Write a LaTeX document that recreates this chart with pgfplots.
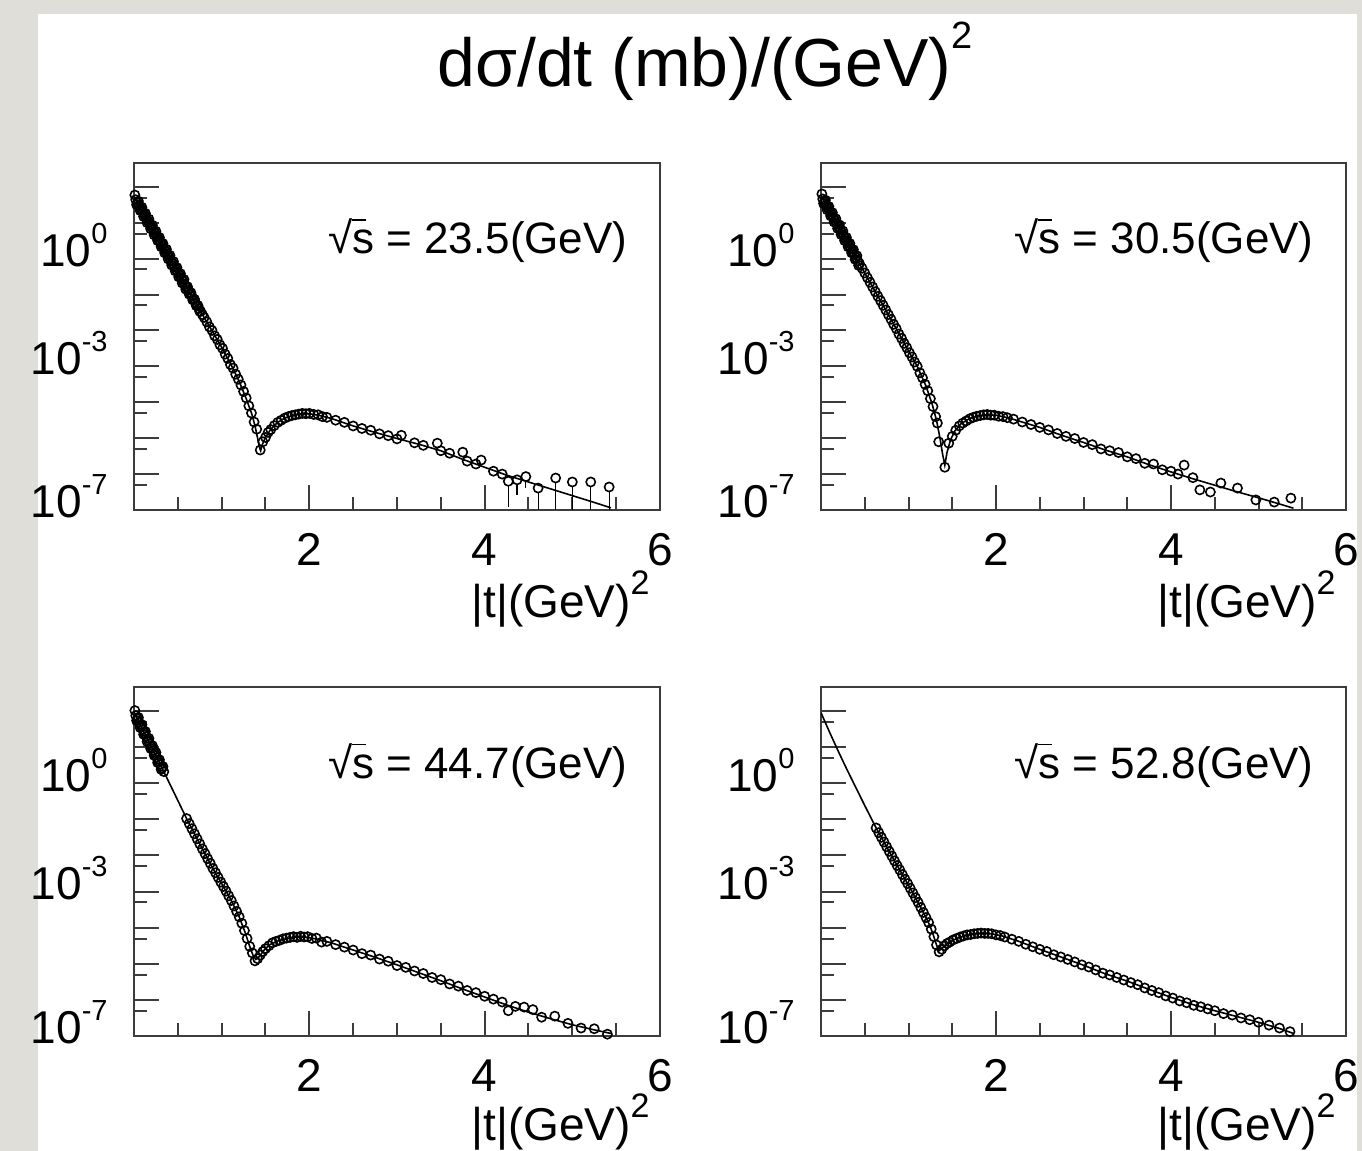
\documentclass[border=0pt]{standalone}
\usepackage{pgfplots}
\pgfplotsset{compat=1.18}
\usepackage{pgfplotstable}
\usepackage{fontspec}
\setmainfont{Liberation Sans}
\definecolor{bgcol}{RGB}{224,222,217}
\definecolor{framecol}{RGB}{60,60,60}
\newcommand{\pw}[1]{10\raisebox{11.5pt}{\fontsize{14.5pt}{14.5pt}\selectfont #1}}
\newcommand{\rs}{√\rlap{\raisebox{16.5pt}{\rule{7pt}{0.9pt}}}s}

\pgfplotstableread{
x ly
0.00 1.72
0.20 0.88
0.40 0.04
0.60 -0.80
0.80 -1.64
0.90 -2.05
1.00 -2.47
1.10 -2.92
1.20 -3.42
1.28 -3.90
1.34 -4.30
1.38 -4.65
1.41 -5.00
1.43 -5.25
1.445 -5.35
1.46 -5.20
1.50 -4.98
1.56 -4.75
1.64 -4.56
1.72 -4.44
1.82 -4.36
1.92 -4.32
2.00 -4.32
2.10 -4.36
2.25 -4.45
2.50 -4.66
2.75 -4.84
3.00 -5.01
3.25 -5.17
3.50 -5.35
3.75 -5.59
4.00 -5.81
4.25 -6.03
4.50 -6.22
4.75 -6.41
5.00 -6.60
5.25 -6.79
5.44 -6.94
}\tlfit
\pgfplotstableread{
x ly
0.01 1.77
0.03 1.50
0.05 1.60
0.07 1.34
0.09 1.43
0.11 1.17
0.13 1.26
0.15 1.00
0.17 1.10
0.19 0.83
0.21 0.93
0.23 0.66
0.25 0.76
0.27 0.50
0.29 0.59
0.31 0.33
0.33 0.42
0.35 0.16
0.37 0.26
0.39 -0.01
0.41 0.09
0.43 -0.18
0.45 -0.08
0.47 -0.34
0.49 -0.25
0.51 -0.51
0.53 -0.42
0.55 -0.68
0.57 -0.58
0.59 -0.85
0.61 -0.78
0.63 -0.99
0.65 -0.95
0.67 -1.15
0.69 -1.13
0.71 -1.31
0.73 -1.31
0.75 -1.47
}\tlband
\pgfplotstableread{
x ly
0.02 1.64
0.04 1.55
0.06 1.47
0.08 1.38
0.10 1.30
0.12 1.22
0.14 1.13
0.16 1.05
0.18 0.96
0.20 0.88
0.22 0.80
0.24 0.71
0.26 0.63
0.28 0.54
0.30 0.46
0.32 0.38
0.34 0.29
0.36 0.21
0.38 0.12
0.40 0.04
0.42 -0.04
0.44 -0.13
0.46 -0.21
0.48 -0.30
0.50 -0.38
0.52 -0.46
0.54 -0.55
0.56 -0.63
0.58 -0.72
0.60 -0.80
0.62 -0.88
0.64 -0.97
0.66 -1.05
0.68 -1.14
0.70 -1.22
0.72 -1.30
0.74 -1.39
0.76 -1.47
0.78 -1.56
0.80 -1.64
0.83 -1.76
0.86 -1.90
0.89 -2.00
0.92 -2.15
0.95 -2.25
0.98 -2.40
1.01 -2.50
1.04 -2.66
1.07 -2.78
1.10 -2.95
1.13 -3.05
1.16 -3.22
1.19 -3.36
1.22 -3.52
1.25 -3.70
1.28 -3.88
1.31 -4.10
1.34 -4.30
1.37 -4.55
1.40 -4.75
1.44 -5.33
1.47 -5.10
1.50 -4.98
1.53 -4.84
1.56 -4.76
1.60 -4.65
1.64 -4.56
1.68 -4.50
1.72 -4.44
1.76 -4.40
1.80 -4.37
1.84 -4.35
1.88 -4.33
1.92 -4.31
1.96 -4.32
2.00 -4.31
2.05 -4.34
2.10 -4.35
2.15 -4.40
2.20 -4.42
2.30 -4.50
2.40 -4.56
2.50 -4.66
2.60 -4.73
2.70 -4.78
2.80 -4.88
2.90 -4.93
3.00 -5.02
3.05 -4.92
3.20 -5.13
3.30 -5.20
3.46 -5.14
3.50 -5.35
3.60 -5.42
3.75 -5.39
3.80 -5.64
3.90 -5.72
3.96 -5.61
4.10 -5.92
4.20 -6.00
4.27 -6.20
4.37 -6.16
4.47 -6.07
4.61 -6.39
4.81 -6.11
5.00 -6.22
5.21 -6.22
5.42 -6.36
}\tldat

\pgfplotstableread{
x ly
0.00 1.75
0.20 0.89
0.40 0.03
0.60 -0.83
0.80 -1.69
1.00 -2.57
1.10 -3.00
1.20 -3.55
1.27 -4.05
1.32 -4.50
1.36 -5.00
1.39 -5.45
1.415 -5.75
1.44 -5.40
1.48 -5.05
1.53 -4.80
1.60 -4.60
1.70 -4.45
1.80 -4.38
1.90 -4.35
2.00 -4.36
2.15 -4.44
2.50 -4.70
2.75 -4.92
3.00 -5.12
3.25 -5.33
3.50 -5.52
3.75 -5.74
4.00 -5.94
4.25 -6.13
4.50 -6.31
4.75 -6.49
5.00 -6.66
5.25 -6.84
5.40 -6.95
}\trfit
\pgfplotstableread{
x ly
0.01 1.80
0.03 1.53
0.05 1.63
0.07 1.36
0.09 1.45
0.11 1.19
0.13 1.28
0.15 1.02
0.17 1.11
0.19 0.84
0.21 0.94
0.23 0.67
0.25 0.77
0.27 0.50
0.29 0.59
0.31 0.33
0.33 0.42
0.35 0.16
0.37 0.25
0.39 -0.02
0.41 0.08
0.43 -0.19
}\trband
\pgfplotstableread{
x ly
0.02 1.66
0.04 1.58
0.06 1.49
0.08 1.41
0.10 1.32
0.12 1.23
0.14 1.15
0.16 1.06
0.18 0.98
0.20 0.89
0.22 0.80
0.24 0.72
0.26 0.63
0.28 0.55
0.30 0.46
0.32 0.37
0.34 0.29
0.36 0.20
0.38 0.12
0.40 0.03
0.42 -0.06
0.44 -0.14
0.47 -0.27
0.50 -0.40
0.53 -0.53
0.56 -0.66
0.59 -0.79
0.62 -0.92
0.65 -1.05
0.68 -1.17
0.71 -1.30
0.74 -1.43
0.77 -1.56
0.80 -1.69
0.83 -1.83
0.86 -1.95
0.89 -2.10
0.92 -2.22
0.95 -2.36
0.98 -2.48
1.01 -2.62
1.04 -2.74
1.07 -2.88
1.10 -3.00
1.13 -3.18
1.16 -3.32
1.19 -3.50
1.22 -3.68
1.25 -3.90
1.28 -4.12
1.31 -4.40
1.33 -4.58
1.345 -5.10
1.415 -5.81
1.46 -5.14
1.50 -4.95
1.54 -4.78
1.58 -4.66
1.62 -4.58
1.66 -4.52
1.70 -4.46
1.74 -4.42
1.78 -4.39
1.82 -4.37
1.86 -4.35
1.90 -4.34
1.94 -4.36
1.98 -4.36
2.03 -4.39
2.08 -4.40
2.13 -4.43
2.20 -4.47
2.30 -4.55
2.40 -4.62
2.50 -4.70
2.60 -4.77
2.70 -4.87
2.80 -4.95
2.90 -5.01
3.00 -5.12
3.10 -5.18
3.20 -5.30
3.30 -5.35
3.40 -5.40
3.50 -5.52
3.60 -5.57
3.70 -5.70
3.80 -5.72
3.90 -5.88
4.00 -5.92
4.08 -6.00
4.15 -5.75
4.25 -6.10
4.33 -6.44
4.45 -6.50
4.57 -6.25
4.76 -6.39
4.97 -6.72
5.18 -6.78
5.37 -6.67
}\trdat

\pgfplotstableread{
x ly
0.00 1.97
0.15 1.24
0.30 0.52
0.45 -0.23
0.60 -0.98
0.75 -1.68
0.90 -2.36
1.00 -2.78
1.10 -3.20
1.20 -3.70
1.27 -4.15
1.32 -4.52
1.36 -4.78
1.39 -4.88
1.43 -4.80
1.48 -4.63
1.55 -4.47
1.65 -4.36
1.75 -4.30
1.85 -4.26
1.95 -4.26
2.05 -4.30
2.25 -4.42
2.50 -4.62
2.75 -4.82
3.00 -5.03
3.25 -5.25
3.50 -5.47
3.75 -5.70
4.00 -5.92
4.25 -6.14
4.50 -6.34
4.75 -6.52
5.00 -6.69
5.25 -6.83
5.44 -6.93
}\blfit
\pgfplotstableread{
x ly
0.01 2.01
0.03 1.73
0.05 1.82
0.07 1.54
0.09 1.62
0.11 1.35
0.13 1.43
0.15 1.15
0.17 1.24
0.19 0.96
0.21 1.04
0.23 0.77
0.25 0.85
0.27 0.57
0.29 0.65
0.31 0.38
0.33 0.46
}\blband
\pgfplotstableread{
x ly
0.02 1.87
0.04 1.78
0.06 1.68
0.08 1.58
0.10 1.49
0.12 1.39
0.14 1.29
0.16 1.19
0.18 1.10
0.20 1.00
0.22 0.90
0.24 0.81
0.26 0.71
0.28 0.61
0.30 0.52
0.32 0.42
0.34 0.32
0.60 -0.98
0.63 -1.12
0.66 -1.26
0.69 -1.40
0.72 -1.54
0.75 -1.68
0.78 -1.82
0.81 -1.95
0.84 -2.09
0.87 -2.22
0.90 -2.36
0.93 -2.48
0.96 -2.61
0.99 -2.74
1.02 -2.86
1.05 -2.99
1.08 -3.12
1.11 -3.25
1.14 -3.40
1.17 -3.55
1.20 -3.70
1.23 -3.88
1.26 -4.08
1.29 -4.30
1.32 -4.52
1.35 -4.70
1.38 -4.92
1.41 -4.86
1.44 -4.76
1.47 -4.66
1.50 -4.58
1.54 -4.50
1.58 -4.42
1.62 -4.38
1.66 -4.35
1.70 -4.31
1.74 -4.29
1.78 -4.27
1.82 -4.25
1.86 -4.27
1.90 -4.24
1.94 -4.26
1.98 -4.25
2.03 -4.30
2.08 -4.29
2.14 -4.40
2.20 -4.38
2.30 -4.47
2.40 -4.54
2.50 -4.62
2.60 -4.72
2.70 -4.76
2.80 -4.87
2.90 -4.93
3.00 -5.05
3.10 -5.10
3.20 -5.20
3.30 -5.27
3.40 -5.38
3.50 -5.44
3.60 -5.56
3.70 -5.62
3.80 -5.74
3.90 -5.80
4.00 -5.90
4.10 -5.98
4.20 -6.06
4.27 -6.30
4.35 -6.18
4.45 -6.20
4.55 -6.27
4.65 -6.48
4.80 -6.45
4.95 -6.65
5.10 -6.78
5.25 -6.80
5.40 -6.95
}\bldat

\pgfplotstableread{
x ly
0.00 1.95
0.10 1.40
0.20 0.87
0.30 0.36
0.40 -0.13
0.50 -0.62
0.63 -1.24
0.80 -1.98
0.97 -2.70
1.05 -3.04
1.14 -3.44
1.20 -3.72
1.25 -3.98
1.29 -4.25
1.32 -4.48
1.35 -4.64
1.38 -4.58
1.42 -4.48
1.47 -4.40
1.55 -4.30
1.65 -4.22
1.75 -4.17
1.85 -4.15
1.95 -4.17
2.07 -4.23
2.25 -4.37
2.50 -4.60
2.75 -4.82
3.00 -5.04
3.25 -5.28
3.50 -5.48
3.75 -5.71
4.00 -5.93
4.25 -6.13
4.50 -6.30
4.75 -6.46
5.00 -6.62
5.25 -6.80
5.40 -6.93
}\brfit
\pgfplotstableread{
x ly
0.63 -1.24
0.66 -1.37
0.69 -1.50
0.72 -1.63
0.75 -1.76
0.78 -1.89
0.81 -2.02
0.84 -2.15
0.87 -2.28
0.90 -2.40
0.93 -2.53
0.96 -2.66
0.99 -2.78
1.02 -2.91
1.05 -3.04
1.08 -3.17
1.11 -3.30
1.14 -3.44
1.17 -3.58
1.20 -3.72
1.23 -3.86
1.26 -4.04
1.29 -4.25
1.32 -4.48
1.35 -4.67
1.38 -4.60
1.41 -4.50
1.44 -4.44
1.47 -4.40
1.51 -4.34
1.55 -4.30
1.59 -4.26
1.63 -4.23
1.67 -4.20
1.71 -4.19
1.75 -4.17
1.79 -4.16
1.83 -4.15
1.87 -4.16
1.91 -4.16
1.95 -4.17
2.00 -4.20
2.05 -4.22
2.10 -4.26
2.18 -4.32
2.26 -4.38
2.34 -4.46
2.42 -4.53
2.50 -4.60
2.58 -4.66
2.66 -4.75
2.74 -4.81
2.82 -4.88
2.90 -4.95
2.98 -5.03
3.06 -5.09
3.14 -5.17
3.22 -5.26
3.30 -5.31
3.38 -5.38
3.46 -5.45
3.54 -5.52
3.62 -5.58
3.70 -5.67
3.78 -5.74
3.86 -5.80
3.94 -5.89
4.02 -5.95
4.10 -6.03
4.18 -6.08
4.26 -6.15
4.34 -6.19
4.42 -6.25
4.50 -6.30
4.60 -6.38
4.70 -6.42
4.80 -6.50
4.90 -6.55
5.00 -6.62
5.12 -6.70
5.24 -6.78
5.36 -6.88
}\brdat

\pgfplotsset{
  every axis/.append style={
    scale only axis, xmin=0, xmax=6, ymode=log, ymin=1e-7, ymax=460,
    xtick={2,4,6}, xticklabels={2,4,6},
    minor xtick={0.5,1,1.5,2.5,3,3.5,4.5,5,5.5},
    ytick={1e-7,1e-6,1e-5,1e-4,1e-3,1e-2,1e-1,1,10,100},
    yticklabels={\pw{-7},,,,\pw{-3},,,\pw{0},,},
    minor ytick={5e-7,5e-6,5e-5,5e-4,5e-3,5e-2,0.5,5,50},
    xtick pos=left, ytick pos=left, tick align=inside,
    major tick length=12.5pt, minor tick length=6.5pt,
    axis line style={line width=1pt, draw=framecol},
    tick style={line width=1pt, draw=framecol},
    tick label style={font=\fontsize{23pt}{23pt}\selectfont, inner sep=0pt},
    xticklabel style={anchor=base, yshift=-28pt},
    yticklabel style={anchor=base east, xshift=-13pt, yshift=-4pt},
    xlabel={|t|(GeV)\raisebox{11.5pt}{\fontsize{17pt}{17pt}\selectfont 2}},
    xlabel style={at={(axis description cs:1,0)}, anchor=base east, xshift=-5pt, yshift=-54pt, font=\fontsize{23pt}{23pt}\selectfont, inner sep=0pt},
  },
}
\newcommand{\ann}[1]{\node[anchor=base east, inner sep=0pt, font=\fontsize{22pt}{22pt}\selectfont] at (axis description cs:0.939,0.738) {\rs{} = #1(GeV)};}

\begin{document}
\begin{tikzpicture}
\useasboundingbox (0,0) rectangle (681pt,575.5pt);
\clip (0,0) rectangle (681pt,575.5pt);
\fill[bgcol] (0,0) rectangle (681pt,575.5pt);
\fill[white] (19pt,0) rectangle (678.5pt,568.5pt);

\begin{axis}[at={(67pt,320.5pt)}, anchor=south west, width=263pt, height=173.5pt]
\addplot[black, line width=0.8pt, no markers] table[x=x, y expr=10^(\thisrow{ly})] {\tlfit};
\addplot[black, only marks, mark=o, mark size=2.3pt, mark options={line width=0.8pt}] table[x=x, y expr=10^(\thisrow{ly})] {\tldat};
\addplot[black, only marks, mark=o, mark size=2.3pt, mark options={line width=0.8pt}] table[x=x, y expr=10^(\thisrow{ly})] {\tlband};
\addplot[black, line width=0.6pt, no markers] coordinates {(4.27,4.9e-7) (4.27,1.2e-7)};
\addplot[black, line width=0.6pt, no markers] coordinates {(4.37,5.4e-7) (4.37,2.6e-7)};
\addplot[black, line width=0.6pt, no markers] coordinates {(4.47,6.6e-7) (4.47,4e-7)};
\addplot[black, line width=0.6pt, no markers] coordinates {(4.61,3.2e-7) (4.61,1e-7)};
\addplot[black, line width=0.6pt, no markers] coordinates {(4.81,6.0e-7) (4.81,5e-8)};
\addplot[black, line width=0.6pt, no markers] coordinates {(5.00,4.7e-7) (5.00,5e-8)};
\addplot[black, line width=0.6pt, no markers] coordinates {(5.21,4.7e-7) (5.21,5e-8)};
\addplot[black, line width=0.6pt, no markers] coordinates {(5.42,3.4e-7) (5.42,5e-8)};
\ann{23.5}
\end{axis}

\begin{axis}[at={(410.5pt,320.5pt)}, anchor=south west, width=262.5pt, height=173.5pt]
\addplot[black, line width=0.8pt, no markers] table[x=x, y expr=10^(\thisrow{ly})] {\trfit};
\addplot[black, only marks, mark=o, mark size=2.3pt, mark options={line width=0.8pt}] table[x=x, y expr=10^(\thisrow{ly})] {\trdat};
\addplot[black, only marks, mark=o, mark size=2.3pt, mark options={line width=0.8pt}] table[x=x, y expr=10^(\thisrow{ly})] {\trband};
\ann{30.5}
\end{axis}

\begin{axis}[at={(67pt,57.5pt)}, anchor=south west, width=263pt, height=174.5pt, xlabel style={yshift=1.5pt}]
\addplot[black, line width=0.8pt, no markers] table[x=x, y expr=10^(\thisrow{ly})] {\blfit};
\addplot[black, only marks, mark=o, mark size=2.3pt, mark options={line width=0.8pt}] table[x=x, y expr=10^(\thisrow{ly})] {\bldat};
\addplot[black, only marks, mark=o, mark size=2.3pt, mark options={line width=0.8pt}] table[x=x, y expr=10^(\thisrow{ly})] {\blband};
\ann{44.7}
\end{axis}

\begin{axis}[at={(410.5pt,57.5pt)}, anchor=south west, width=262.5pt, height=174.5pt, xlabel style={yshift=1.5pt}]
\addplot[black, line width=0.8pt, no markers] table[x=x, y expr=10^(\thisrow{ly})] {\brfit};
\addplot[black, only marks, mark=o, mark size=2.3pt, mark options={line width=0.8pt}] table[x=x, y expr=10^(\thisrow{ly})] {\brdat};
\ann{52.8}
\end{axis}

\node[anchor=base west, inner sep=0pt, font=\fontsize{34pt}{34pt}\selectfont] at (218.5pt,532pt) {dσ/dt (mb)/(GeV)\raisebox{19pt}{\fontsize{19pt}{19pt}\selectfont 2}};
\end{tikzpicture}
\end{document}
